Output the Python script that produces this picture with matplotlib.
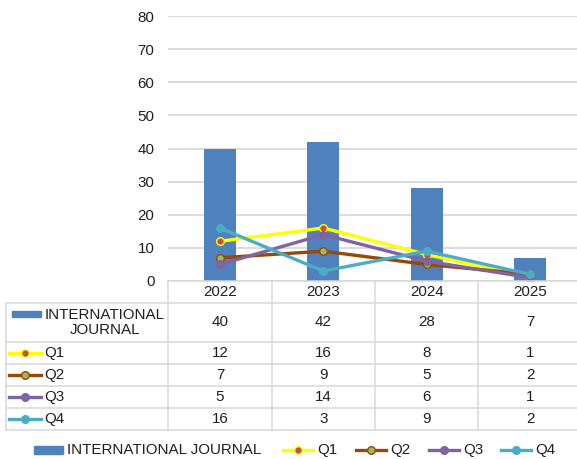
import matplotlib
matplotlib.use("Agg")
import matplotlib.pyplot as plt
from matplotlib.lines import Line2D
from matplotlib.patches import Rectangle

years = ["2022", "2023", "2024", "2025"]
journal = [40, 42, 28, 7]
q1 = [12, 16, 8, 1]
q2 = [7, 9, 5, 2]
q3 = [5, 14, 6, 1]
q4 = [16, 3, 9, 2]
yticks = [0, 10, 20, 30, 40, 50, 60, 70, 80]

W, H = 577, 459
plt.rcParams['font.family'] = ['Liberation Sans', 'DejaVu Sans']
FS = 10.9
TXT = '#1F1F1F'
GRID = '#D9D9D9'

fig = plt.figure(figsize=(W / 100, H / 100), dpi=100)

def fx(x):
    return x / W

def fy(y):
    return 1 - y / H

ax_l, ax_r, ax_t, ax_b = 168.3, 581.6, 16, 281
ax = fig.add_axes([fx(ax_l), fy(ax_b), (ax_r - ax_l) / W, (ax_b - ax_t) / H])
x = list(range(len(years)))
ax.bar(x, journal, width=0.31, color='#4F81BD', zorder=2)

series = [
    ("Q1", q1, '#FFFF00', '#C0504D', '#FFFF00'),
    ("Q2", q2, '#984807', '#9BBB59', '#984807'),
    ("Q3", q3, '#8064A2', '#8064A2', '#8064A2'),
    ("Q4", q4, '#4BACC6', '#4BACC6', '#4BACC6'),
]
for name, vals, lc, mfc, mec in series:
    ax.plot(x, vals, color=lc, lw=2.4, marker='o', ms=5.5, mfc=mfc, mec=mec,
            mew=1.0, zorder=3, solid_capstyle='round')

ax.set_xlim(-0.5, len(years) - 0.5)
ax.set_ylim(0, 80)
ax.set_yticks(yticks)
ax.set_yticklabels([str(v) for v in yticks], fontsize=FS, color=TXT)
ax.set_xticks([])
ax.tick_params(axis='y', length=0, pad=10)
ax.grid(axis='y', color=GRID, lw=1.3, zorder=0)
for s in ax.spines.values():
    s.set_visible(False)
ax.set_axisbelow(True)

# data table drawn in figure pixel space
col_edges = [168.3, 271.7, 375.0, 478.3, 581.6]
row_edges = [303, 342, 364, 386, 408, 430]
left_edge = 6
lw_tab = 1.1

def hline(y, x0, x1):
    fig.add_artist(Line2D([fx(x0), fx(x1)], [fy(y), fy(y)], color=GRID, lw=lw_tab))

def vline(x0, y0, y1):
    fig.add_artist(Line2D([fx(x0), fx(x0)], [fy(y0), fy(y1)], color=GRID, lw=lw_tab))

hline(281, col_edges[0], col_edges[-1])
for y in row_edges:
    hline(y, left_edge, col_edges[-1])
vline(left_edge, row_edges[0], row_edges[-1])
for c in col_edges:
    vline(c, 281, row_edges[-1])

# year headers
for i, yr in enumerate(years):
    cx = (col_edges[i] + col_edges[i + 1]) / 2
    fig.text(fx(cx), fy(292.5), yr, ha='center', va='center', fontsize=FS, color=TXT)

rows = [("INTERNATIONAL\nJOURNAL", journal, None)] + [(n, v, (lc, mfc, mec)) for n, v, lc, mfc, mec in series]
for r, (name, vals, sty) in enumerate(rows):
    y0, y1 = row_edges[r], row_edges[r + 1]
    cy = (y0 + y1) / 2
    for i, v in enumerate(vals):
        cx = (col_edges[i] + col_edges[i + 1]) / 2
        fig.text(fx(cx), fy(cy), str(v), ha='center', va='center', fontsize=FS, color=TXT)
    if sty is None:
        fig.add_artist(Rectangle((fx(12), fy(317)), fx(41) - fx(12), fy(311) - fy(317),
                                 color='#4F81BD', transform=fig.transFigure))
        fig.text(fx(105), fy(cy), name, ha='center', va='center', fontsize=FS, color=TXT,
                 linespacing=1.05)
    else:
        lc, mfc, mec = sty
        fig.add_artist(Line2D([fx(9), fx(41)], [fy(cy), fy(cy)], color=lc, lw=2.4))
        fig.add_artist(Line2D([fx(25)], [fy(cy)], marker='o', ms=5.5, mfc=mfc, mec=mec, mew=1.0, lw=0))
        fig.text(fx(44), fy(cy), name, ha='left', va='center', fontsize=FS, color=TXT)

# bottom legend
ly = 450
fig.add_artist(Rectangle((fx(34), fy(454)), fx(63) - fx(34), fy(446) - fy(454),
                         color='#4F81BD', transform=fig.transFigure))
fig.text(fx(67), fy(ly), "INTERNATIONAL JOURNAL", ha='left', va='center', fontsize=FS, color=TXT)
leg_x = [283, 356, 429, 501]
for (name, vals, lc, mfc, mec), lx in zip(series, leg_x):
    fig.add_artist(Line2D([fx(lx), fx(lx + 30)], [fy(ly), fy(ly)], color=lc, lw=2.4))
    fig.add_artist(Line2D([fx(lx + 15)], [fy(ly)], marker='o', ms=5.5, mfc=mfc, mec=mec, mew=1.0, lw=0))
    fig.text(fx(lx + 34), fy(ly), name, ha='left', va='center', fontsize=FS, color=TXT)

fig.savefig("out.png", dpi=100)
